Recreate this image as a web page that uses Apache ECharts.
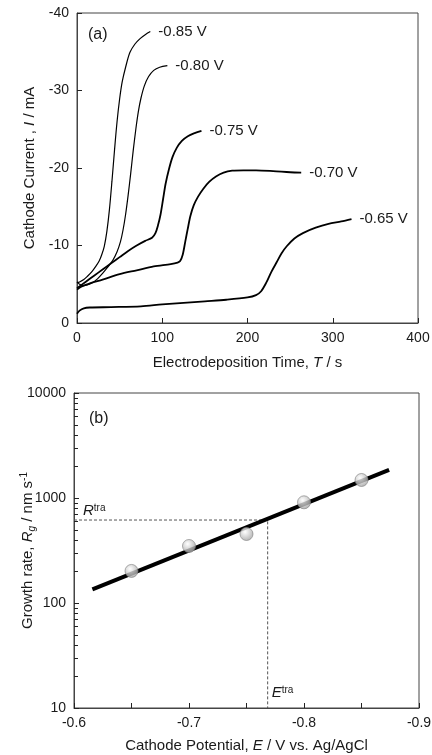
<!DOCTYPE html>
<html>
<head>
<meta charset="utf-8">
<script src="https://cdn.jsdelivr.net/npm/echarts@6/dist/echarts.min.js"></script>
<style>
  html, body { margin: 0; padding: 0; background: #fff; }
  #chart { width: 432px; height: 755px; }
</style>
</head>
<body>
<div id="chart"></div>
<script>
// (a) chronoamperometry curves, [time s, current mA]
const curve085 = [[0,-5.2],[3,-5.3],[8,-5.6],[12,-6.0],[18,-6.7],[22,-7.3],[26,-8.0],[29,-8.8],[32,-9.9],[35,-11.8],[38,-14.6],[41,-18.3],[44,-22.3],[47,-26.0],[50,-28.9],[53,-31.1],[57,-33.0],[62,-34.9],[68,-36.0],[74,-36.7],[80,-37.2],[86,-37.6]]
const curve080 = [[0,-5.3],[3,-5.0],[7,-4.8],[12,-4.9],[18,-5.2],[24,-5.7],[30,-6.4],[36,-7.2],[42,-8.1],[47,-9.2],[51,-10.5],[54,-12.0],[57,-14.0],[60,-16.5],[63,-19.3],[66,-22.3],[69,-25.0],[72,-27.3],[75,-29.0],[79,-30.6],[84,-31.8],[90,-32.6],[97,-33.0],[106,-33.2]]
const curve075 = [[0,-4.5],[10,-5.3],[20,-6.1],[30,-6.9],[40,-7.7],[50,-8.5],[60,-9.3],[70,-10.0],[80,-10.6],[88,-11.0],[92,-11.6],[95,-12.6],[98,-14.0],[101,-16.0],[104,-18.0],[108,-19.9],[112,-21.4],[117,-22.6],[123,-23.5],[130,-24.1],[138,-24.5],[146,-24.8]]
const curve070 = [[0,-4.3],[5,-4.7],[15,-5.1],[30,-5.6],[50,-6.3],[70,-6.8],[90,-7.3],[110,-7.6],[118,-7.8],[121,-8.0],[124,-8.8],[127,-10.5],[130,-12.2],[133,-13.8],[137,-15.2],[142,-16.3],[148,-17.3],[155,-18.2],[163,-18.9],[172,-19.4],[182,-19.65],[195,-19.7],[210,-19.7],[230,-19.6],[250,-19.45],[263,-19.4]]
const curve065 = [[0,-1.2],[3,-1.6],[8,-1.9],[15,-2.0],[40,-2.05],[75,-2.15],[100,-2.4],[125,-2.6],[150,-2.8],[175,-3.0],[200,-3.3],[210,-3.6],[216,-4.1],[222,-5.2],[228,-6.6],[234,-7.8],[240,-9.0],[246,-9.9],[255,-10.9],[265,-11.6],[280,-12.3],[295,-12.8],[310,-13.1],[322,-13.4]]
const curveNames = ['-0.85 V', '-0.80 V', '-0.75 V', '-0.70 V', '-0.65 V']

// (b) growth rate vs potential
const potentials = [-0.65, -0.70, -0.75, -0.80, -0.85]
const growthRates = [202, 349, 454, 910, 1484]
const fitLine = [[-0.616, 135], [-0.874, 1850]]
const transitionRate = 617
const transitionPotential = -0.7684
const minorTicksB = [20,30,40,50,60,70,80,90,200,300,400,500,600,700,800,900,2000,3000,4000,5000,6000,7000,8000,9000]

const font = 'Liberation Sans, Arial, sans-serif'
const ink = '#1a1a1a'
const frame = '#444'

const chart = echarts.init(document.getElementById('chart'))

function axisBase() {
  return {
    axisLine: { show: true, onZero: false, lineStyle: { color: frame, width: 1 } },
    axisTick: { show: true, inside: true, length: 5, lineStyle: { color: '#222', width: 1 } },
    splitLine: { show: false },
    axisLabel: { color: ink, fontSize: 14, fontFamily: font },
    nameMoveOverlap: false,
    nameTextStyle: { color: ink, fontSize: 15, fontFamily: font }
  }
}

const curves = [curve085, curve080, curve075, curve070, curve065]
const curveSeries = curves.map((d, i) => ({
  name: curveNames[i],
  type: 'line',
  xAxisIndex: 0,
  yAxisIndex: 0,
  data: d,
  showSymbol: false,
  smooth: 0.3,
  lineStyle: { color: '#000', width: i < 2 ? 1.2 : 1.8 },
  endLabel: { show: true, formatter: '{a}', distance: 8, color: ink, fontSize: 15, fontFamily: font },
  silent: true,
  z: 3
}))

const richName = { n: { fontSize: 15, color: ink }, i: { fontSize: 15, color: ink, fontStyle: 'italic' } }
const richTra = {
  i: { fontSize: 15, fill: ink, fontStyle: 'italic', fontFamily: font },
  s: { fontSize: 10, fill: ink, fontFamily: font, verticalAlign: 'top', lineHeight: 10 }
}

const option = {
  animation: false,
  textStyle: { fontFamily: font },
  graphic: [
    { type: 'text', left: 88, top: 27, style: { text: '(a)', fontSize: 16, fill: ink, fontFamily: font } },
    { type: 'text', left: 89, top: 411, style: { text: '(b)', fontSize: 16, fill: ink, fontFamily: font } }
  ],
  grid: [
    { left: 77, top: 13, width: 341, height: 310, show: true, borderColor: frame, borderWidth: 1, containLabel: false, outerBoundsMode: 'none' },
    { left: 74, top: 393, width: 345, height: 315, show: true, borderColor: frame, borderWidth: 1, containLabel: false, outerBoundsMode: 'none' }
  ],
  xAxis: [
    Object.assign(axisBase(), {
      gridIndex: 0, type: 'value', min: 0, max: 400, interval: 100,
      name: '{n|Electrodeposition Time, }{i|T}{n| / s}', nameLocation: 'middle', nameGap: 32,
      nameTextStyle: { rich: richName }
    }),
    Object.assign(axisBase(), {
      gridIndex: 1, type: 'value', min: -0.9, max: -0.6, interval: 0.05, inverse: true,
      name: '{n|Cathode Potential, }{i|E}{n| / V vs. Ag/AgCl}', nameLocation: 'middle', nameGap: 30,
      nameTextStyle: { rich: richName },
      axisLabel: {
        color: ink, fontSize: 14, fontFamily: font,
        formatter: v => (Math.round(Math.abs(v) * 100) % 10 === 0 ? v.toFixed(1) : '')
      }
    })
  ],
  yAxis: [
    Object.assign(axisBase(), {
      gridIndex: 0, type: 'value', min: -40, max: 0, interval: 10, inverse: true,
      name: '{n|Cathode Current , }{i|I}{n| / mA}', nameLocation: 'middle', nameGap: 40,
      nameTextStyle: { rich: richName }
    }),
    Object.assign(axisBase(), {
      gridIndex: 1, type: 'log', logBase: 10, min: 10, max: 10000,
      name: '{n|Growth rate, }{i|R}{sub|g}{n| / nm s}{sup|-1}', nameLocation: 'middle', nameGap: 37,
      nameTextStyle: { rich: {
        n: { fontSize: 15, color: ink, lineHeight: 18 },
        i: { fontSize: 15, color: ink, fontStyle: 'italic', lineHeight: 18 },
        sub: { fontSize: 10, color: ink, fontStyle: 'italic', lineHeight: 10, verticalAlign: 'bottom' },
        sup: { fontSize: 10, color: ink, lineHeight: 10, verticalAlign: 'top' }
      } },
      axisLabel: { color: ink, fontSize: 14, fontFamily: font, formatter: v => String(v) }
    })
  ],
  series: curveSeries.concat([
    {
      // minor ticks of the log axis, 2..9 in each decade
      type: 'custom', xAxisIndex: 1, yAxisIndex: 1, silent: true, clip: false,
      data: minorTicksB.map(v => [-0.6, v]),
      renderItem: (params, api) => {
        const p = api.coord([api.value(0), api.value(1)])
        return { type: 'line', shape: { x1: p[0], y1: Math.round(p[1]) + 0.5, x2: p[0] + 4, y2: Math.round(p[1]) + 0.5 },
          style: { stroke: '#222', lineWidth: 1 } }
      },
      z: 6
    },
    {
      type: 'line', xAxisIndex: 1, yAxisIndex: 1, silent: true,
      data: [[-0.6, transitionRate], [transitionPotential, transitionRate], [transitionPotential, 10]],
      showSymbol: false,
      lineStyle: { color: '#555', width: 1, type: [3, 2] }
    },
    {
      type: 'line', xAxisIndex: 1, yAxisIndex: 1, silent: true,
      data: fitLine, showSymbol: false,
      lineStyle: { color: '#000', width: 4 }
    },
    {
      type: 'scatter', xAxisIndex: 1, yAxisIndex: 1, silent: true,
      data: potentials.map((e, i) => [e, growthRates[i]]),
      symbolSize: 13,
      itemStyle: {
        color: { type: 'radial', x: 0.4, y: 0.35, r: 0.7, colorStops: [
          { offset: 0, color: '#ffffff' }, { offset: 1, color: '#9c9c9c' }] },
        borderColor: '#808080', borderWidth: 0.8
      },
      z: 5
    },
    {
      // R^tra and E^tra annotations, anchored to the dashed guide lines
      type: 'custom', xAxisIndex: 1, yAxisIndex: 1, silent: true, clip: false,
      data: [[-0.6, transitionRate, 0], [transitionPotential, 10, 1]],
      renderItem: (params, api) => {
        const p = api.coord([api.value(0), api.value(1)])
        const isR = api.value(2) === 0
        return {
          type: 'text',
          x: p[0] + (isR ? 9 : 4),
          y: p[1] + (isR ? -9 : -15),
          style: { text: '{i|' + (isR ? 'R' : 'E') + '}{s|tra}', rich: richTra, verticalAlign: 'middle', align: 'left' }
        }
      },
      z: 6
    }
  ])
}

chart.setOption(option)
</script>
</body>
</html>
